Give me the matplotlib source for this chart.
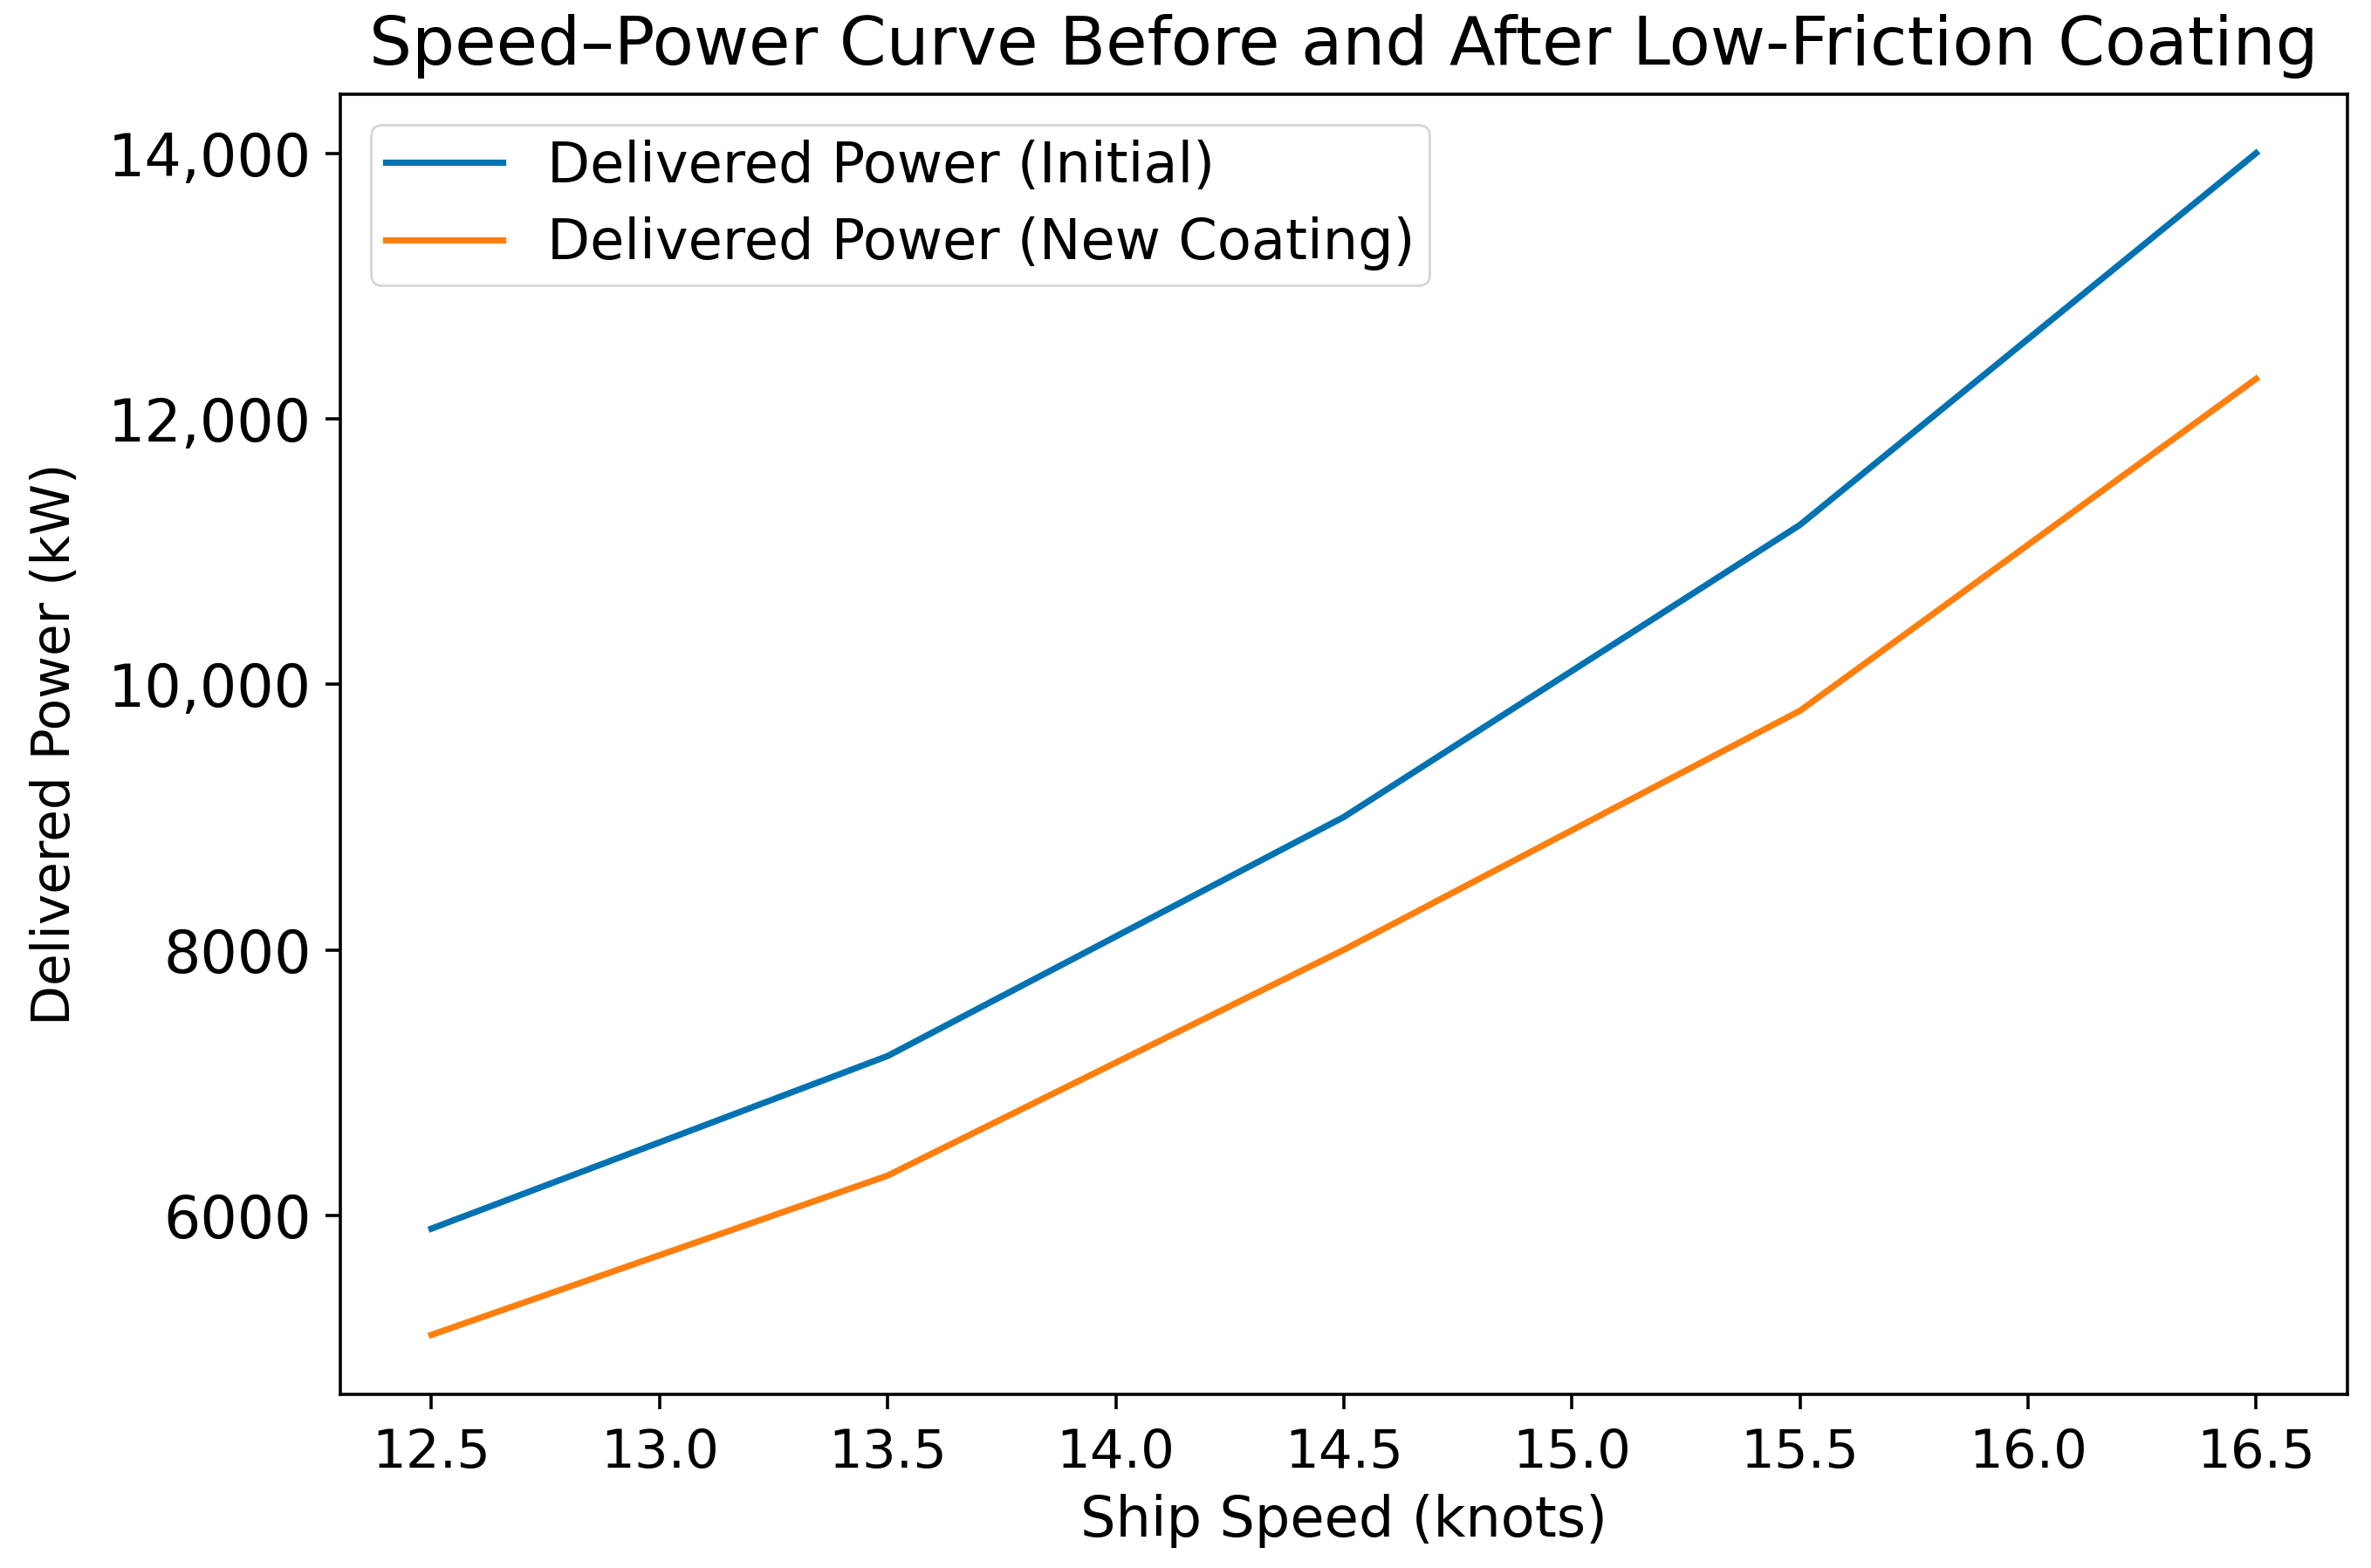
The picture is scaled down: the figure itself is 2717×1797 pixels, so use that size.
import matplotlib
matplotlib.use("Agg")
import matplotlib.pyplot as plt
from matplotlib.ticker import FuncFormatter

speed_knots = [12.5, 13.5, 14.5, 15.5, 16.5]
power_initial = [5900, 7200, 9000, 11200, 14000]
power_coating = [5100, 6300, 8000, 9800, 12300]

labels = ["Delivered Power (Initial)", "Delivered Power (New Coating)"]
colors = ["#0072B2", "#FF7F0E"]


def fmt_power(v, pos):
    # comma only from five digits on, like the original
    if abs(v) >= 10000:
        return f"{v:,.0f}"
    return f"{v:.0f}"


def main():
    plt.rcParams['font.family'] = ['DejaVu Sans']
    fig, ax = plt.subplots(figsize=(13.585, 8.985), dpi=200)
    fig.subplots_adjust(left=0.1435, right=0.99, top=0.94, bottom=0.111)

    ax.plot(speed_knots, power_initial, color=colors[0], lw=2.6, label=labels[0])
    ax.plot(speed_knots, power_coating, color=colors[1], lw=2.6, label=labels[1])

    ax.set_title("Speed\u2013Power Curve Before and After Low-Friction Coating",
                 fontsize=27.8, pad=12)
    ax.set_xlabel("Ship Speed (knots)", fontsize=23, labelpad=6)
    ax.set_ylabel("Delivered Power (kW)", fontsize=21.5, labelpad=11)
    ax.yaxis.set_major_formatter(FuncFormatter(fmt_power))
    ax.tick_params(axis='x', labelsize=22, length=6, width=1.3, pad=8)
    ax.tick_params(axis='y', labelsize=24, length=6, width=1.3, pad=6)
    for s in ax.spines.values():
        s.set_linewidth(1.3)

    ax.legend(loc='upper left', fontsize=23, handlelength=2.1, borderpad=0.26,
              labelspacing=0.42, borderaxespad=0.55)

    fig.savefig("out.png", dpi=200)


if __name__ == "__main__":
    main()
